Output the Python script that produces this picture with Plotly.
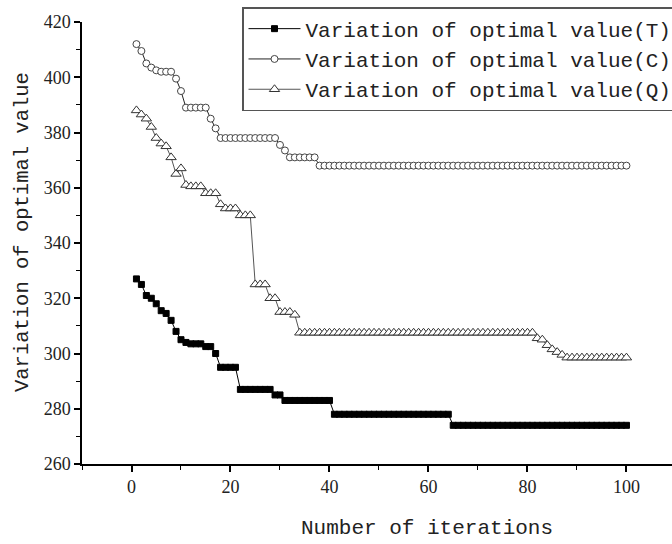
import plotly.graph_objects as go

iterations = list(range(1, 101))

values_T = [
    327, 325, 321, 320, 318, 315.5, 314.5, 312, 308, 305, 304,
    303.5, 303.5, 303.5, 302.5, 302.5, 300,
    295, 295, 295, 295,
    287, 287, 287, 287, 287, 287, 287,
    285, 285,
    283, 283, 283, 283, 283, 283, 283, 283, 283, 283,
    278, 278, 278, 278, 278, 278, 278, 278, 278, 278, 278, 278,
    278, 278, 278, 278, 278, 278, 278, 278, 278, 278, 278, 278,
    274, 274, 274, 274, 274, 274, 274, 274, 274, 274, 274, 274,
    274, 274, 274, 274, 274, 274, 274, 274, 274, 274, 274, 274,
    274, 274, 274, 274, 274, 274, 274, 274, 274, 274, 274, 274,
]

values_C = [
    412, 409.5, 405, 403.5, 402.5, 402, 402, 402, 399.5, 395,
    389, 389, 389, 389, 389,
    385, 381.5,
    378, 378, 378, 378, 378, 378, 378, 378, 378, 378, 378, 378,
    375.5, 373.5,
    371, 371, 371, 371, 371, 371,
    368, 368, 368, 368, 368, 368, 368, 368, 368, 368, 368,
    368, 368, 368, 368, 368, 368, 368, 368, 368, 368, 368,
    368, 368, 368, 368, 368, 368, 368, 368, 368, 368, 368,
    368, 368, 368, 368, 368, 368, 368, 368, 368, 368, 368,
    368, 368, 368, 368, 368, 368, 368, 368, 368, 368, 368,
    368, 368, 368, 368, 368, 368, 368, 368,
]

values_Q = [
    388, 386.5, 385, 382, 378, 376, 375, 371, 365, 367, 361,
    360.5, 360.5, 360.5,
    358, 358, 358,
    354,
    352.5, 352.5, 352.5,
    350, 350, 350,
    325, 325, 325,
    320, 320,
    315, 315, 315,
    314,
    307.5, 307.5, 307.5, 307.5, 307.5, 307.5, 307.5, 307.5, 307.5, 307.5, 307.5, 307.5,
    307.5, 307.5, 307.5, 307.5, 307.5, 307.5, 307.5, 307.5, 307.5, 307.5, 307.5, 307.5,
    307.5, 307.5, 307.5, 307.5, 307.5, 307.5, 307.5, 307.5, 307.5, 307.5, 307.5, 307.5,
    307.5, 307.5, 307.5, 307.5, 307.5, 307.5, 307.5, 307.5, 307.5, 307.5, 307.5, 307.5,
    305.5, 305, 303, 301.5, 300.5, 299.5,
    298.5, 298.5, 298.5, 298.5, 298.5, 298.5, 298.5, 298.5, 298.5, 298.5, 298.5, 298.5, 298.5,
]

series_names = [
    "Variation of optimal value(T)",
    "Variation of optimal value(C)",
    "Variation of optimal value(Q)",
]

x_tick_vals = [0, 20, 40, 60, 80, 100]
y_tick_vals = [260, 280, 300, 320, 340, 360, 380, 400, 420]

mono = "Liberation Mono"
serif = "Liberation Serif"

fig = go.Figure()
fig.add_trace(go.Scatter(
    x=iterations, y=values_T, name=series_names[0], mode="lines+markers",
    line=dict(color="black", width=1),
    marker=dict(symbol="square", size=6, color="black", line=dict(color="black", width=1)),
))
fig.add_trace(go.Scatter(
    x=iterations, y=values_C, name=series_names[1], mode="lines+markers",
    line=dict(color="#222222", width=1),
    marker=dict(symbol="circle", size=7, color="white", line=dict(color="#444444", width=1)),
))
fig.add_trace(go.Scatter(
    x=iterations, y=values_Q, name=series_names[2], mode="lines+markers",
    line=dict(color="#555555", width=1),
    marker=dict(symbol="triangle-up", size=9, color="white", line=dict(color="#333333", width=1)),
))

fig.update_layout(
    width=672, height=544,
    margin=dict(l=82, r=0, t=22, b=80, autoexpand=False),
    plot_bgcolor="white", paper_bgcolor="white",
    showlegend=True,
    legend=dict(
        xref="container", yref="container",
        x=242 / 672, y=1 - 7 / 544, xanchor="left", yanchor="top",
        bordercolor="#555555", borderwidth=1.5, bgcolor="white",
        font=dict(family=mono, size=21, color="#222222"),
        tracegroupgap=0, itemwidth=52,
    ),
    xaxis=dict(
        range=[-10, 109.2], showline=True, linecolor="black", linewidth=1.5,
        showgrid=False, zeroline=False, ticks="outside", ticklen=6, tickwidth=1.5,
        tickcolor="black", tickvals=x_tick_vals, automargin=False,
        tickfont=dict(family=serif, size=18, color="#222222"),
        minor=dict(dtick=10, tick0=0, ticks="outside", ticklen=4, tickwidth=1.2, tickcolor="black", showgrid=False),
    ),
    yaxis=dict(
        range=[260, 420], showline=True, linecolor="black", linewidth=1.5,
        showgrid=False, zeroline=False, ticks="outside", ticklen=6, tickwidth=1.5,
        tickcolor="black", tickvals=y_tick_vals, automargin=False,
        tickfont=dict(family=serif, size=18, color="#222222"),
        minor=dict(dtick=10, tick0=260, ticks="outside", ticklen=4, tickwidth=1.2, tickcolor="black", showgrid=False),
    ),
    annotations=[
        dict(text="Number of iterations", xref="paper", yref="paper",
             x=(427 - 82) / 590, y=-(528 - 464) / 442, xanchor="center", yanchor="middle",
             showarrow=False, font=dict(family=mono, size=21, color="#222222")),
        dict(text="Variation of optimal value", xref="paper", yref="paper",
             x=-(82 - 22) / 590, y=(464 - 232) / 442, xanchor="center", yanchor="middle",
             textangle=-90, showarrow=False, font=dict(family=mono, size=20.5, color="#222222")),
    ],
)

fig.write_html(
    "out.html",
    config={"displayModeBar": False},
    post_script="document.body.style.margin='0';document.body.style.overflow='hidden';",
)
